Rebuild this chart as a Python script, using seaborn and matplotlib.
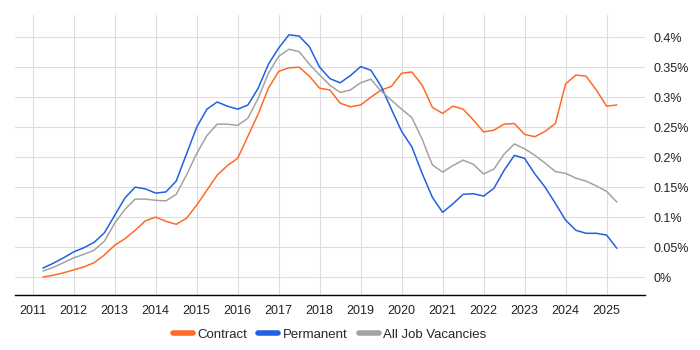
import pandas as pd
import seaborn as sns
import matplotlib.pyplot as plt
from matplotlib.ticker import FuncFormatter

# quarterly sample points (decimal years), values in % of all job ads
years = [2011.25 + 0.25 * i for i in range(57)]

contract = [0.000, 0.003, 0.007, 0.012, 0.017, 0.024, 0.037, 0.053, 0.064, 0.078,
            0.094, 0.100, 0.093, 0.088, 0.098, 0.120, 0.145, 0.170, 0.186, 0.198,
            0.235, 0.272, 0.315, 0.343, 0.349, 0.350, 0.335, 0.315, 0.312, 0.290,
            0.284, 0.287, 0.300, 0.312, 0.318, 0.340, 0.342, 0.320, 0.283, 0.273,
            0.285, 0.280, 0.262, 0.242, 0.245, 0.255, 0.256, 0.238, 0.234, 0.243,
            0.256, 0.322, 0.337, 0.335, 0.312, 0.285, 0.287]

permanent = [0.015, 0.023, 0.032, 0.042, 0.049, 0.058, 0.074, 0.103, 0.132, 0.150,
             0.147, 0.140, 0.142, 0.160, 0.205, 0.250, 0.280, 0.292, 0.285, 0.280,
             0.287, 0.315, 0.355, 0.382, 0.404, 0.402, 0.384, 0.350, 0.331, 0.324,
             0.336, 0.351, 0.345, 0.318, 0.280, 0.243, 0.217, 0.173, 0.133, 0.108,
             0.122, 0.138, 0.139, 0.135, 0.148, 0.178, 0.203, 0.198, 0.172, 0.150,
             0.123, 0.095, 0.078, 0.073, 0.073, 0.070, 0.048]

all_jobs = [0.010, 0.016, 0.024, 0.032, 0.038, 0.045, 0.060, 0.090, 0.113, 0.130,
            0.130, 0.128, 0.127, 0.138, 0.170, 0.206, 0.236, 0.255, 0.255, 0.253,
            0.265, 0.298, 0.340, 0.368, 0.380, 0.376, 0.355, 0.337, 0.320, 0.308,
            0.312, 0.324, 0.330, 0.310, 0.295, 0.280, 0.266, 0.230, 0.187, 0.175,
            0.186, 0.195, 0.188, 0.172, 0.180, 0.205, 0.222, 0.214, 0.203, 0.190,
            0.176, 0.173, 0.165, 0.160, 0.152, 0.143, 0.125]

year_ticks = list(range(2011, 2026))
pct_ticks = [0, 0.05, 0.1, 0.15, 0.2, 0.25, 0.3, 0.35, 0.4]

df = pd.concat([
    pd.DataFrame({'Year': years, 'Share': contract, 'Type': 'Contract'}),
    pd.DataFrame({'Year': years, 'Share': permanent, 'Type': 'Permanent'}),
    pd.DataFrame({'Year': years, 'Share': all_jobs, 'Type': 'All Job Vacancies'}),
])

sns.set_style('white')
plt.rcParams['font.family'] = ['Liberation Sans', 'DejaVu Sans']

fig = plt.figure(figsize=(7, 3.5), dpi=100)
ax = fig.add_axes([0.021, 0.157, 0.9, 0.8])

palette = {'Contract': '#ff6a26', 'Permanent': '#2160e0', 'All Job Vacancies': '#a3a3a3'}
sns.lineplot(data=df, x='Year', y='Share', hue='Type', palette=palette,
             linewidth=1.1, ax=ax)

ax.set_xlim(2010.56, 2025.93)
ax.set_ylim(-0.03, 0.437)
ax.set_xticks(year_ticks)
ax.set_xticklabels([str(y) for y in year_ticks])
ax.set_yticks(pct_ticks)
ax.yaxis.set_major_formatter(FuncFormatter(lambda v, p: f'{v:g}%'))
ax.yaxis.tick_right()
ax.tick_params(axis='y', length=0, labelsize=9, pad=6, colors='#222222')
ax.tick_params(axis='x', length=4, color='#cccccc', labelsize=9, colors='#222222')
ax.grid(True, color='#dddddd', linewidth=0.8)
ax.set_xlabel('')
ax.set_ylabel('')

for side in ['top', 'right', 'left']:
    ax.spines[side].set_visible(False)
ax.spines['bottom'].set_color('#000000')
ax.spines['bottom'].set_linewidth(1)

handles, labels = ax.get_legend_handles_labels()
for h in handles:
    h.set_linewidth(4)
ax.get_legend().remove()
fig.legend(handles, labels, loc='center', bbox_to_anchor=(0.471, 0.043),
           ncol=3, frameon=False, fontsize=9.5, handlelength=1.5,
           columnspacing=0.85, handletextpad=0.35)

fig.savefig('out.png', dpi=100)
